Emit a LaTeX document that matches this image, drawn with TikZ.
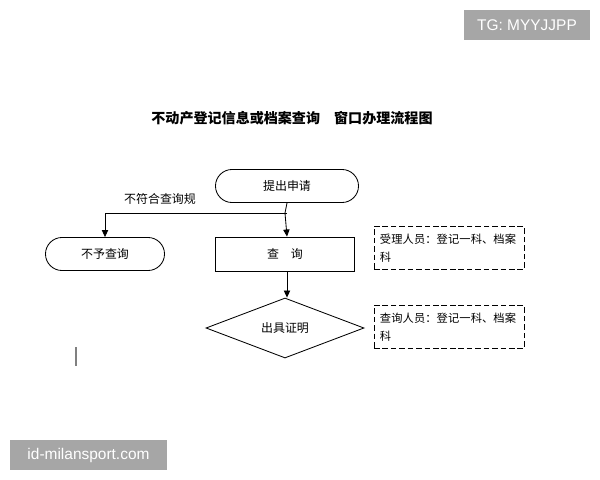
\documentclass[tikz,border=0pt]{standalone}
\usepackage{fontspec}
\setmainfont{Liberation Sans}
\newfontfamily\cjk{Noto Sans CJK SC}
\XeTeXlinebreaklocale "zh"
\XeTeXlinebreakskip=0pt plus 1pt
\usetikzlibrary{arrows.meta,shapes.misc,shapes.geometric,positioning}
\definecolor{wmgray}{HTML}{A6A6A6}

\begin{document}
\begin{tikzpicture}[x=0.025cm, y=-0.025cm,
    every node/.style={font=\cjk\fontsize{8.5}{12}\selectfont},
    term/.style={rounded rectangle, draw, line width=0.6pt, minimum width=3.575cm, minimum height=0.825cm, inner sep=0pt},
    proc/.style={rectangle, draw, line width=0.6pt, minimum width=3.475cm, minimum height=0.85cm, inner sep=0pt},
    decide/.style={diamond, draw, line width=0.6pt, minimum width=3.95cm, minimum height=1.5cm, inner sep=0pt},
    note/.style={rectangle, draw, dashed, line width=0.6pt, dash pattern=on 4pt off 2pt, minimum width=3.75cm, minimum height=1.075cm, text width=3.45cm, align=left, font=\cjk\fontsize{8}{12.8}\selectfont},
    wm/.style={fill=wmgray, text=white, inner sep=0pt, font=\fontsize{11}{13}\selectfont},
    flow/.style={line width=0.6pt, -{Triangle[length=5pt,width=4.5pt]}}]
    % page size
    \useasboundingbox (0,0) rectangle (600,480);

    % title
    \node[font=\cjk\bfseries\fontsize{10}{12}\selectfont] (title) at (292,118) {不动产登记信息或档案查询\quad 窗口办理流程图};

    % main flow
    \node[term] (start) at (287,186) {提出申请};
    \node[proc] (query) at (285,254) {查\quad 询};
    \node[term, minimum width=2.975cm] (refuse) at (105,254) {不予查询};
    \node[decide] (cert) at (285,328) {出具证明};

    % side notes
    \node[note] (note1) at (449,248) {受理人员：登记一科、档案科};
    \node[note] (note2) at (449,327) {查询人员：登记一科、档案科};

    % connectors
    \coordinate (split) at (287,213);
    \draw[flow] (start.south -| split) -- (split -| query.north) -- (query.north -| split);
    \draw[flow] (split) -| (refuse.north);
    \node (rule) at (160,199) {不符合查询规};
    \draw[flow] (query.south -| split) -- (cert.north -| split);

    % stray mark
    \draw[gray, line width=0.8pt] (76,347) -- (76,366);

    % watermarks
    \node[wm, minimum width=3.125cm, minimum height=0.75cm] (wmtop) at (527,25) {TG: MYYJJPP};
    \node[wm, minimum width=3.925cm, minimum height=0.75cm] (wmbot) at (88.5,455) {id-milansport.com};
\end{tikzpicture}
\end{document}
